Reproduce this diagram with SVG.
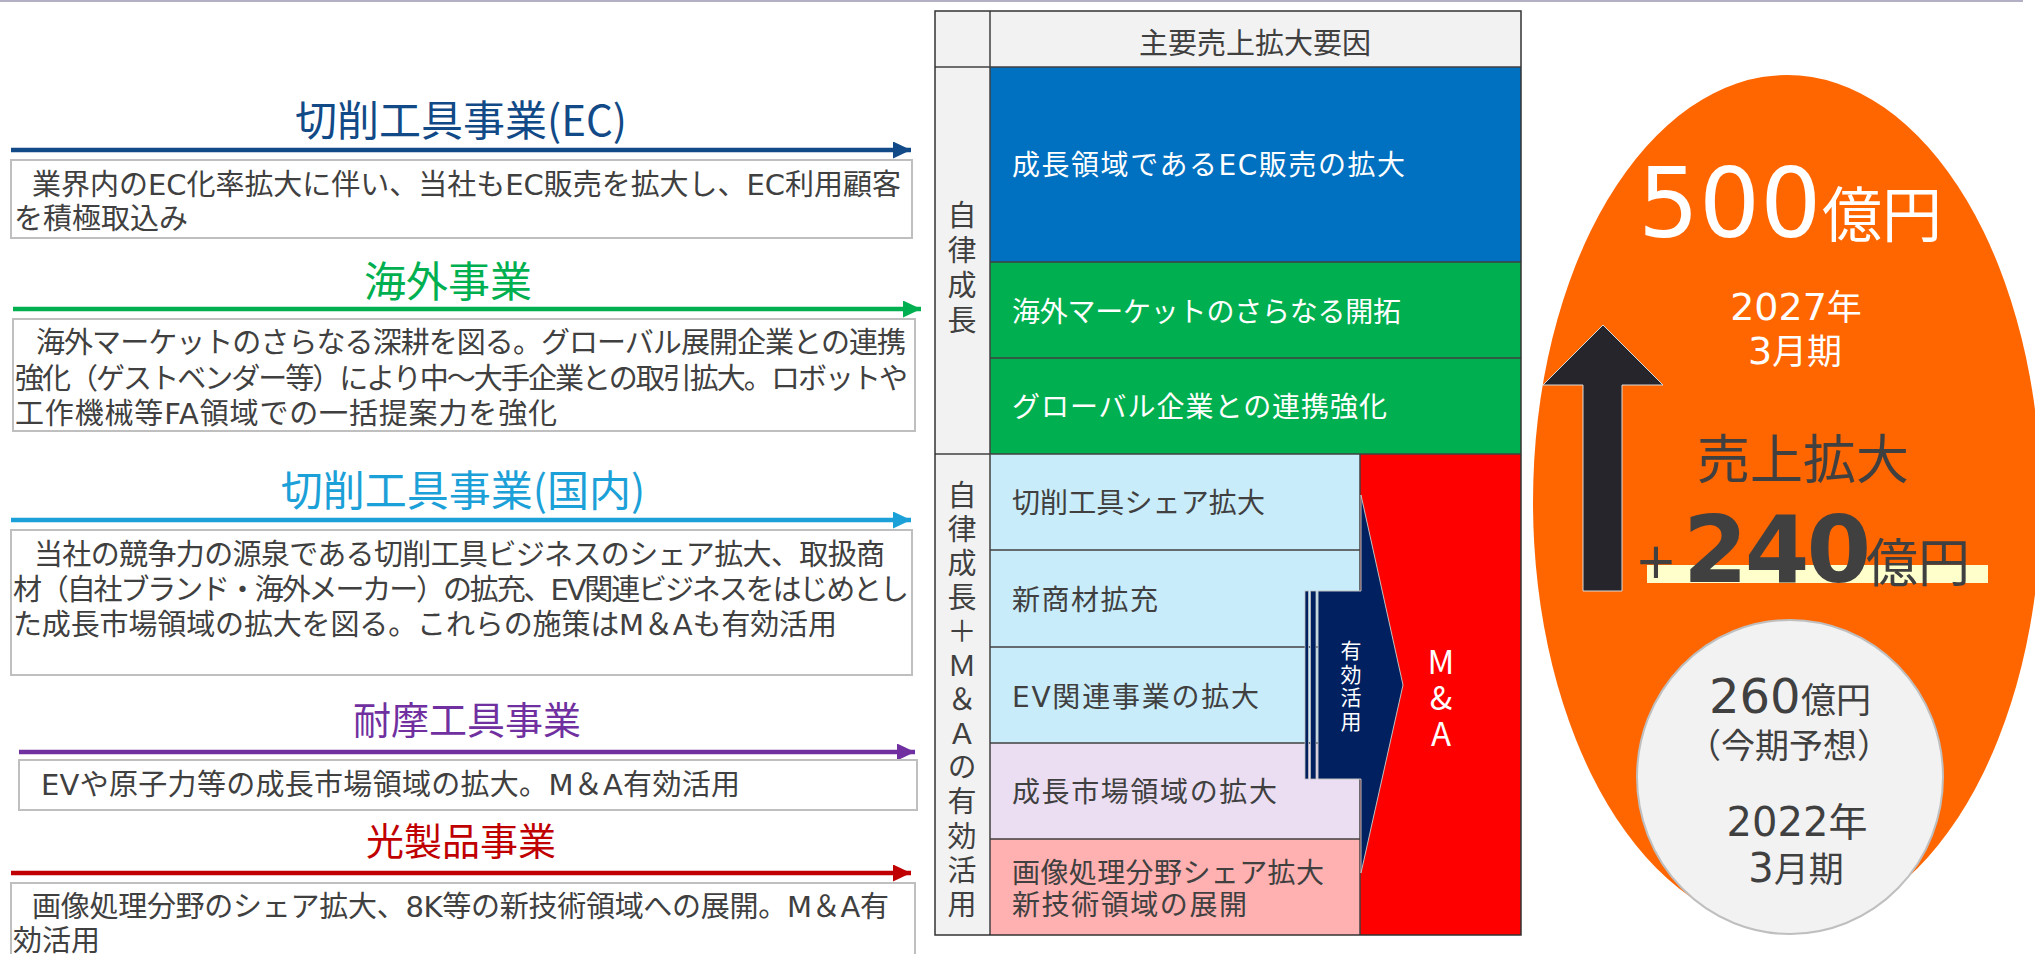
<svg xmlns="http://www.w3.org/2000/svg" width="2035" height="954" viewBox="0 0 2035 954">
<style>
text { font-family: 'DejaVu Sans','Noto Sans CJK JP',sans-serif; }
.jp { font-family: 'Noto Sans CJK JP','DejaVu Sans',sans-serif; }
.body { font-size: 29px; fill: #404040; }
.t1 { font-size: 42px; text-anchor: middle; }
.t2 { font-size: 38px; text-anchor: middle; }
.box { fill: #ffffff; stroke: #bfbfbf; stroke-width: 2; }
.arr { stroke-width: 4.5; fill: none; }
.cell { stroke: #404040; stroke-width: 1.5; }
.ct { font-size: 28px; fill: #ffffff; }
.cd { font-size: 28px; fill: #404040; }
.vert { writing-mode: vertical-rl; text-orientation: upright; }
.gray { fill: #404040; }
</style>
<defs>
<marker id="hEC" markerUnits="userSpaceOnUse" markerWidth="18" markerHeight="17" refX="18" refY="8.5" orient="auto" viewBox="0 0 18 17"><path d="M0,0 L18,8.5 L0,17 Z" fill="#114a87"/></marker>
<marker id="hGr" markerUnits="userSpaceOnUse" markerWidth="18" markerHeight="17" refX="18" refY="8.5" orient="auto" viewBox="0 0 18 17"><path d="M0,0 L18,8.5 L0,17 Z" fill="#00b050"/></marker>
<marker id="hBl" markerUnits="userSpaceOnUse" markerWidth="18" markerHeight="17" refX="18" refY="8.5" orient="auto" viewBox="0 0 18 17"><path d="M0,0 L18,8.5 L0,17 Z" fill="#1ba0d7"/></marker>
<marker id="hPu" markerUnits="userSpaceOnUse" markerWidth="18" markerHeight="17" refX="18" refY="8.5" orient="auto" viewBox="0 0 18 17"><path d="M0,0 L18,8.5 L0,17 Z" fill="#7030a0"/></marker>
<marker id="hRd" markerUnits="userSpaceOnUse" markerWidth="18" markerHeight="17" refX="18" refY="8.5" orient="auto" viewBox="0 0 18 17"><path d="M0,0 L18,8.5 L0,17 Z" fill="#c00000"/></marker>
</defs>

<rect x="0" y="0" width="2035" height="954" fill="#ffffff"/>
<line x1="0" y1="1" x2="2023" y2="1" stroke="#b3b0c6" stroke-width="2"/>

<!-- connectors -->
<g id="connectors">
<line class="arr" x1="11" y1="150" x2="911" y2="150" stroke="#114a87" marker-end="url(#hEC)"/>
<line class="arr" x1="13" y1="309" x2="921" y2="309" stroke="#00b050" marker-end="url(#hGr)"/>
<line class="arr" x1="11" y1="520" x2="911" y2="520" stroke="#1ba0d7" marker-end="url(#hBl)"/>
<line class="arr" x1="19" y1="752" x2="915" y2="752" stroke="#7030a0" marker-end="url(#hPu)"/>
<line class="arr" x1="11" y1="873" x2="911" y2="873" stroke="#c00000" marker-end="url(#hRd)"/>
</g>

<!-- left business nodes -->
<g id="node-ec">
<text class="t1 jp" x="461" y="136" fill="#114a87">切削工具事業(EC)</text>
<rect class="box" x="11" y="160" width="901" height="78"/>
<text class="body" x="32" y="195" textLength="869">業界内のEC化率拡大に伴い、当社もEC販売を拡大し、EC利用顧客</text>
<text class="body" x="14" y="229">を積極取込み</text>
</g>

<g id="node-overseas">
<text class="t1 jp" x="448" y="297" fill="#00b050">海外事業</text>
<rect class="box" x="13" y="319" width="902" height="112"/>
<text class="body" x="36" y="353" textLength="870">海外マーケットのさらなる深耕を図る。グローバル展開企業との連携</text>
<text class="body" x="15" y="389" textLength="893">強化（ゲストベンダー等）により中～大手企業との取引拡大。ロボットや</text>
<text class="body" x="15" y="424" textLength="542">工作機械等FA領域での一括提案力を強化</text>
</g>

<g id="node-domestic">
<text class="t1 jp" x="463" y="506" fill="#1ba0d7">切削工具事業(国内)</text>
<rect class="box" x="11" y="530" width="901" height="145"/>
<text class="body" x="34" y="565" textLength="851">当社の競争力の源泉である切削工具ビジネスのシェア拡大、取扱商</text>
<text class="body" x="13" y="600" textLength="896">材（自社ブランド・海外メーカー）の拡充、EV関連ビジネスをはじめとし</text>
<text class="body" x="13" y="635" textLength="824">た成長市場領域の拡大を図る。これらの施策はM＆Aも有効活用</text>
</g>

<g id="node-wear">
<text class="t2 jp" x="467" y="734" fill="#7030a0">耐摩工具事業</text>
<rect class="box" x="19" y="760" width="898" height="50"/>
<text class="body" x="41" y="795" textLength="699">EVや原子力等の成長市場領域の拡大。M＆A有効活用</text>
</g>

<g id="node-optical">
<text class="t2 jp" x="461" y="855" fill="#c00000">光製品事業</text>
<rect class="box" x="11" y="883" width="904" height="90"/>
<text class="body" x="32" y="917" textLength="857">画像処理分野のシェア拡大、8K等の新技術領域への展開。M＆A有</text>
<text class="body" x="13" y="951">効活用</text>
</g>

<!-- table -->
<g id="table">
<rect x="935" y="11" width="586" height="924" fill="#f2f2f2"/>
<g id="cell-ec"><rect x="990" y="67" width="531" height="195" fill="#0070c0"/>
<text class="ct" x="1012" y="175" textLength="393">成長領域であるEC販売の拡大</text></g>
<g id="cell-overseas"><rect x="990" y="262" width="531" height="96" fill="#00b050"/>
<text class="ct" x="1012" y="322" textLength="389">海外マーケットのさらなる開拓</text></g>
<g id="cell-global"><rect x="990" y="358" width="531" height="96" fill="#00b050"/>
<text class="ct" x="1012" y="417" textLength="375">グローバル企業との連携強化</text></g>
<g id="cell-share"><rect x="990" y="454" width="370" height="96" fill="#c9ecfa"/>
<text class="cd" x="1012" y="513" textLength="253">切削工具シェア拡大</text></g>
<g id="cell-new"><rect x="990" y="550" width="370" height="97" fill="#c9ecfa"/>
<text class="cd" x="1012" y="610" textLength="146">新商材拡充</text></g>
<g id="cell-ev"><rect x="990" y="647" width="370" height="96" fill="#c9ecfa"/>
<text class="cd" x="1012" y="707" textLength="247">EV関連事業の拡大</text></g>
<g id="cell-growth"><rect x="990" y="743" width="370" height="96" fill="#ebdef3"/>
<text class="cd" x="1012" y="802" textLength="265">成長市場領域の拡大</text></g>
<g id="cell-image"><rect x="990" y="839" width="370" height="96" fill="#ffb0b0"/>
<text class="cd" x="1012" y="883" textLength="312">画像処理分野シェア拡大</text>
<text class="cd" x="1012" y="915" textLength="235">新技術領域の展開</text></g>
<g id="cell-ma"><rect x="1360" y="454" width="161" height="481" fill="#ff0000"/></g>

<line class="cell" x1="935" y1="67" x2="1521" y2="67"/>
<line class="cell" x1="935" y1="454" x2="1521" y2="454"/>
<line class="cell" x1="990" y1="262" x2="1521" y2="262" stroke="#1f3b5c"/>
<line class="cell" x1="990" y1="358" x2="1521" y2="358"/>
<line class="cell" x1="990" y1="550" x2="1360" y2="550" stroke="#1a1a1a"/>
<line class="cell" x1="990" y1="647" x2="1360" y2="647" stroke="#595959"/>
<line class="cell" x1="990" y1="743" x2="1360" y2="743" stroke="#595959"/>
<line class="cell" x1="990" y1="839" x2="1360" y2="839" stroke="#595959"/>
<line class="cell" x1="990" y1="11" x2="990" y2="935"/>
<line class="cell" x1="1360" y1="454" x2="1360" y2="935"/>
<rect x="935" y="11" width="586" height="924" fill="none" stroke="#333333" stroke-width="1.5"/>

<text class="jp" x="1255" y="54" font-size="29" fill="#404040" text-anchor="middle">主要売上拡大要因</text>

<text class="jp vert" x="962" y="200" font-size="29" fill="#404040" letter-spacing="6">自律成長</text>
<text class="jp vert" x="962" y="480" font-size="29" fill="#404040" letter-spacing="5.1">自律成長＋Ｍ＆Ａの有効活用</text>
</g>

<g id="striped-arrow">
<rect x="1305" y="591" width="3.5" height="188" fill="#002060" stroke="#bfbfbf" stroke-width="0.8"/>
<rect x="1310.5" y="591" width="5.5" height="188" fill="#002060" stroke="#bfbfbf" stroke-width="0.8"/>
<path d="M1318,591 H1361 V495 L1403,685 L1361,873 V779 H1318 Z" fill="#002060" stroke="#bfbfbf" stroke-width="1"/>
<text class="jp vert" x="1351" y="640" font-size="21" fill="#ffffff" letter-spacing="2.5">有効活用</text>
</g>

<g id="label-ma">
<text class="jp vert" x="1441" y="645" font-size="33" fill="#ffffff" letter-spacing="3">M&amp;A</text>
</g>

<!-- right side -->
<g id="target-2027">
<ellipse cx="1787" cy="502" rx="254" ry="427" fill="#ff6600"/>
<text y="237" fill="#ffffff"><tspan x="1638" font-size="96">500</tspan><tspan class="jp" x="1822" font-size="60">億円</tspan></text>
<text fill="#ffffff" text-anchor="middle"><tspan x="1796" y="320" font-size="38">2027</tspan><tspan class="jp" font-size="35">年</tspan><tspan x="1795" y="364" font-size="38">3</tspan><tspan class="jp" font-size="35">月期</tspan></text>
</g>

<g id="growth-arrow">
<polygon points="1603,325 1663,385 1622,385 1622,591 1583,591 1583,385 1543,385" fill="#26252b" stroke="#d9d9d9" stroke-width="1"/>
<text class="jp gray" x="1803" y="479" font-size="53" text-anchor="middle">売上拡大</text>
<rect x="1647" y="565" width="341" height="18" fill="#ffffcc"/>
<text class="gray"><tspan x="1635" y="578" font-size="50">+</tspan><tspan x="1683" y="582" font-size="93" font-weight="bold" letter-spacing="-3">240</tspan><tspan class="jp" x="1866" y="582" font-size="52">億円</tspan></text>
</g>

<g id="current-2022">
<ellipse cx="1790" cy="777" rx="153" ry="157" fill="#f2f2f2" stroke="#bfbfbf" stroke-width="2"/>
<text class="gray" y="713"><tspan x="1709" font-size="48">260</tspan><tspan class="jp" x="1801" font-size="35">億円</tspan></text>
<text class="jp gray" x="1789" y="758" font-size="34" text-anchor="middle">（今期予想）</text>
<text class="gray" text-anchor="middle"><tspan x="1797" y="836" font-size="40">2022</tspan><tspan class="jp" font-size="39">年</tspan><tspan x="1796" y="882" font-size="40">3</tspan><tspan class="jp" font-size="35">月期</tspan></text>
</g>
</svg>
